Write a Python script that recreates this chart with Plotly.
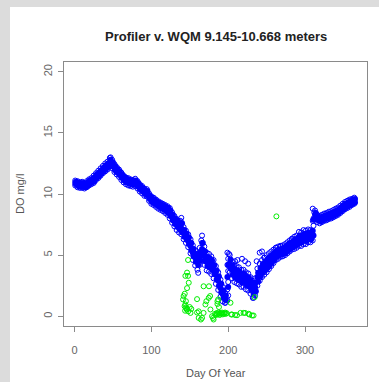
import plotly.graph_objects as go

# ---------------- data ----------------
blue_day = list(range(1, 365, 3))
blue_day2 = list(range(2, 366, 3))

blue_mid = [10.9, 10.8, 10.7, 10.75, 10.65, 10.8, 10.95, 11.05, 11.2, 11.45,
            11.6, 11.8, 12.0, 12.2, 12.35, 12.6, 12.45, 12.15, 11.9, 11.7,
            11.45, 11.25, 11.1, 11.0, 10.95, 10.9, 10.95, 10.75, 10.5, 10.35,
            10.15, 10.1, 9.75, 9.5, 9.4, 9.25, 9.1, 9.0, 8.9, 8.8,
            8.7, 8.45, 8.1, 7.8, 7.55, 7.35, 7.2, 6.8, 6.5, 6.2,
            5.75, 5.2, 4.8, 4.5, 4.9, 5.5, 4.9, 4.5, 4.4, 4.2,
            3.85, 3.4, 2.9, 2.3, 1.8, 1.45, 3.2, 4.3, 3.8, 3.5,
            3.4, 3.3, 3.1, 3.1, 2.9, 2.8, 2.5, 2.2, 2.4, 3.2,
            3.6, 3.9, 4.1, 4.3, 4.5, 4.7, 4.9, 5.1, 5.2, 5.3,
            5.35, 5.45, 5.6, 5.75, 5.9, 6.0, 6.1, 6.3, 6.3, 6.5,
            6.45, 6.6, 6.55, 7.0, 8.3, 8.0, 7.9, 8.0, 8.1, 8.15,
            8.25, 8.3, 8.4, 8.5, 8.6, 8.75, 8.9, 9.05, 9.15, 9.25,
            9.35, 9.45]

blue_low = [10.7, 10.55, 10.5, 10.5, 10.45, 10.55, 10.7, 10.8, 10.9, 11.15,
            11.3, 11.5, 11.7, 11.85, 12.0, 12.25, 12.1, 11.8, 11.6, 11.4,
            11.15, 10.95, 10.8, 10.7, 10.65, 10.6, 10.65, 10.45, 10.2, 10.05,
            9.85, 9.8, 9.45, 9.2, 9.1, 8.95, 8.8, 8.7, 8.6, 8.45,
            8.3, 8.0, 7.65, 7.35, 7.05, 6.85, 6.7, 6.3, 6.0, 5.65,
            5.15, 4.6, 4.15, 3.8, 4.2, 4.7, 4.2, 3.75, 3.65, 3.45,
            3.1, 2.65, 2.15, 1.6, 1.2, 1.1, 1.3, 3.6, 3.1, 2.8,
            2.7, 2.6, 2.4, 2.4, 2.2, 2.1, 1.85, 1.5, 1.7, 2.5,
            2.9, 3.2, 3.4, 3.6, 3.85, 4.1, 4.35, 4.6, 4.7, 4.85,
            4.9, 5.0, 5.15, 5.3, 5.45, 5.5, 5.6, 5.75, 5.75, 5.9,
            5.9, 6.05, 6.05, 6.2, 7.95, 7.7, 7.6, 7.7, 7.8, 7.85,
            7.95, 8.0, 8.1, 8.2, 8.3, 8.45, 8.6, 8.75, 8.85, 8.95,
            9.1, 9.2]

blue_high = [11.1, 11.05, 10.95, 11.0, 10.9, 11.05, 11.2, 11.3, 11.5, 11.7,
             11.9, 12.1, 12.3, 12.5, 12.65, 12.95, 12.8, 12.45, 12.2, 12.0,
             11.75, 11.5, 11.35, 11.3, 11.2, 11.15, 11.25, 11.05, 10.8, 10.65,
             10.45, 10.4, 10.05, 9.8, 9.7, 9.55, 9.4, 9.3, 9.2, 9.1,
             9.0, 8.85, 8.5, 8.2, 7.95, 7.8, 8.05, 7.3, 7.0, 6.7,
             6.3, 5.8, 5.4, 5.1, 5.6, 6.6, 5.7, 5.2, 5.1, 4.9,
             4.6, 4.1, 3.6, 3.0, 2.4, 1.9, 5.2, 5.0, 4.5, 4.2,
             4.1, 4.0, 3.8, 3.8, 3.6, 3.5, 3.2, 2.9, 3.1, 3.9,
             4.3, 4.6, 4.8, 5.0, 5.15, 5.3, 5.45, 5.6, 5.7, 5.75,
             5.8, 5.9, 6.05, 6.2, 6.35, 6.5, 6.6, 6.9, 6.85, 7.05,
             7.0, 7.1, 7.05, 8.8, 8.65, 8.3, 8.2, 8.3, 8.4, 8.45,
             8.55, 8.6, 8.7, 8.8, 8.9, 9.05, 9.2, 9.35, 9.45, 9.55,
             9.6, 9.7]

blue_q1 = [10.8, 10.65, 10.6, 10.6, 10.55, 10.65, 10.85, 10.95, 11.05, 11.3,
           11.45, 11.65, 11.85, 12.0, 12.2, 12.4, 12.25, 11.95, 11.75, 11.55,
           11.3, 11.1, 10.95, 10.85, 10.8, 10.75, 10.8, 10.6, 10.35, 10.2,
           10.0, 9.9, 9.6, 9.35, 9.25, 9.1, 8.95, 8.85, 8.75, 8.6,
           8.45, 8.2, 7.85, 7.55, 7.3, 7.1, 6.9, 6.5, 6.25, 5.9,
           5.4, 4.9, 4.45, 4.2, 4.55, 5.1, 4.5, 4.1, 4.0, 3.8,
           3.45, 3.0, 2.5, 1.95, 1.5, 1.3, 2.4, 3.9, 3.4, 3.15,
           3.05, 2.95, 2.75, 2.75, 2.55, 2.45, 2.15, 1.85, 2.05, 2.85,
           3.25, 3.55, 3.75, 3.95, 4.15, 4.4, 4.6, 4.85, 4.95, 5.05,
           5.1, 5.2, 5.35, 5.5, 5.65, 5.75, 5.85, 6.0, 6.05, 6.2,
           6.15, 6.3, 6.3, 6.6, 8.1, 7.85, 7.75, 7.85, 7.95, 8.0,
           8.1, 8.15, 8.25, 8.35, 8.45, 8.6, 8.75, 8.9, 9.0, 9.1,
           9.2, 9.3]

blue_q3 = [11.0, 10.95, 10.85, 10.9, 10.8, 10.95, 11.1, 11.2, 11.35, 11.6,
           11.75, 11.95, 12.15, 12.35, 12.5, 12.8, 12.6, 12.3, 12.05, 11.85,
           11.6, 11.4, 11.25, 11.15, 11.1, 11.05, 11.1, 10.9, 10.65, 10.5,
           10.3, 10.25, 9.9, 9.65, 9.55, 9.4, 9.25, 9.15, 9.05, 8.95,
           8.85, 8.65, 8.3, 8.0, 7.75, 7.6, 7.6, 7.05, 6.75, 6.45,
           6.0, 5.5, 5.1, 4.8, 5.25, 6.0, 5.3, 4.85, 4.75, 4.55,
           4.2, 3.75, 3.25, 2.65, 2.1, 1.7, 4.2, 4.65, 4.15, 3.85,
           3.75, 3.65, 3.45, 3.45, 3.25, 3.15, 2.85, 2.55, 2.75, 3.55,
           3.95, 4.25, 4.45, 4.65, 4.85, 5.0, 5.2, 5.35, 5.45, 5.5,
           5.6, 5.7, 5.85, 6.0, 6.1, 6.25, 6.35, 6.6, 6.6, 6.75,
           6.75, 6.85, 6.8, 7.9, 8.45, 8.15, 8.05, 8.15, 8.25, 8.3,
           8.4, 8.45, 8.55, 8.65, 8.75, 8.9, 9.05, 9.2, 9.3, 9.4,
           9.5, 9.6]

blue_extra_day = [47, 138, 139, 165, 166, 199, 199, 200, 200, 200, 200, 201,
                  310, 311, 311, 312, 196, 233]
blue_extra_do = [13.0, 7.8, 7.6, 6.2, 6.0, 2.2, 4.2, 1.7, 2.8, 3.7, 4.7, 5.1,
                 7.8, 7.4, 8.0, 8.5, 1.1, 1.5]

blue_out_day = [161, 209, 212, 218, 222, 226, 237, 241, 244, 247, 262, 268, 283]
blue_out_do = [3.55, 4.5, 4.6, 4.7, 4.5, 4.3, 4.5, 5.2, 5.3, 4.8, 5.6, 5.75, 6.3]

green_day = [147.8, 146.5, 147.8, 144.3, 148.7, 146.5, 143.5, 142.0, 141.3, 145.0,
             144.3, 143.3, 146.5, 146.0, 144.0, 145.0, 148.0, 151.0, 159.5, 159.5,
             161.6, 161.6, 164.5, 166.0, 168.0, 175.0, 170.4, 171.6, 174.7, 176.5,
             176.9, 168.0, 179.0, 180.3, 181.0, 186.0, 187.0, 186.0, 188.0,
             183.0, 184.0, 185.0, 186.0, 187.0, 188.0, 189.0, 190.0, 191.0, 192.0,
             193.0, 194.0, 195.0, 196.0, 197.0, 198.0,
             203.0, 204.0, 205.0, 209.0, 211.5, 216.0, 220.0, 222.0, 226.7, 227.5,
             231.0, 233.0, 234.5, 262.7, 150.0, 152.0]
green_do = [4.6, 3.57, 3.3, 3.3, 2.74, 2.3, 1.84, 1.65, 1.37, 1.23,
            0.96, 0.82, 0.63, 0.55, 0.45, 0.7, 0.4, 0.27, 1.4, 0.3,
            0.4, -0.14, -0.27, -0.14, 2.45, 2.45, 0.96, 1.23, 1.5, 1.65,
            0.55, 0.27, 0.0, -0.14, -0.27, 1.23, 1.37, 1.0, 0.75,
            0.2, 0.1, 0.25, 0.15, 0.3, 0.2, 0.1, 0.25, 0.2, 0.3,
            0.15, 0.25, 0.2, 0.3, 0.2, 0.25,
            1.1, 0.14, 0.14, 0.1, 0.08, 0.27, 0.27, 0.27, 0.2, 0.14,
            0.06, 0.06, 1.56, 8.17, 0.75, 0.6]

x_ticks = [0, 100, 200, 300]
y_ticks = [0, 5, 10, 15, 20]

title_text = "Profiler v. WQM 9.145-10.668 meters"
x_title = "Day Of Year"
y_title = "DO mg/l"

# ---------------- figure ----------------
FONT = "Liberation Sans, Arial, sans-serif"
BLUE = "#0000ff"

core_x = blue_day + blue_day2 + blue_day2
core_y = blue_mid + blue_q1 + blue_q3
edge_x = blue_day + blue_day + blue_extra_day + blue_out_day
edge_y = blue_low + blue_high + blue_extra_do + blue_out_do

fig = go.Figure()
# dense core of the profiler cloud (overlapping circles read as solid)
fig.add_trace(go.Scatter(
    x=core_x, y=core_y, mode="markers",
    marker=dict(symbol="circle", size=6, color=BLUE,
                line=dict(width=0)),
    showlegend=False, hoverinfo="skip"))
# outer profiler readings drawn as open circles
fig.add_trace(go.Scatter(
    x=edge_x, y=edge_y, mode="markers",
    marker=dict(symbol="circle-open", size=5, color=BLUE,
                line=dict(width=1, color=BLUE)),
    showlegend=False, hoverinfo="skip"))
fig.add_trace(go.Scatter(
    x=green_day, y=green_do, mode="markers",
    marker=dict(symbol="circle-open", size=5, color="#00ee00",
                line=dict(width=1, color="#00ee00")),
    showlegend=False, hoverinfo="skip"))

axis_common = dict(
    showgrid=False, zeroline=False, showline=True, linecolor="#8a8a8a",
    linewidth=1, mirror=True, ticks="outside", ticklen=5, tickwidth=1,
    tickcolor="#8a8a8a", tickfont=dict(family=FONT, size=11, color="#666666"),
)

fig.update_layout(
    width=379, height=382,
    margin=dict(l=64, r=12, t=62, b=56),
    paper_bgcolor="#dcdcdc", plot_bgcolor="#ffffff",
    xaxis=dict(range=[-13.6, 380.6], tickmode="array", tickvals=x_ticks,
               ticklabelstandoff=9, **axis_common),
    yaxis=dict(range=[-0.8, 20.8], tickmode="array", tickvals=y_ticks,
               tickangle=-90, ticklabelstandoff=2, **axis_common),
    shapes=[dict(type="rect", xref="paper", yref="paper",
                 x0=(10 - 64) / 303, x1=(385 - 64) / 303,
                 y0=(326 - 390) / 264, y1=(326 - 7) / 264,
                 fillcolor="#ffffff", line=dict(width=0), layer="below")],
    annotations=[
        dict(text="<b>" + title_text + "</b>", xref="paper", yref="paper",
             x=0.5, y=(326 - 37) / 264, showarrow=False,
             xanchor="center", yanchor="middle",
             font=dict(family=FONT, size=13, color="#222222")),
        dict(text=x_title, xref="paper", yref="paper",
             x=0.5, y=(326 - 373) / 264, showarrow=False,
             xanchor="center", yanchor="middle",
             font=dict(family=FONT, size=11, color="#555555")),
        dict(text=y_title, xref="paper", yref="paper",
             x=(20 - 64) / 303, y=0.5, showarrow=False, textangle=-90,
             xanchor="center", yanchor="middle",
             font=dict(family=FONT, size=11, color="#555555")),
    ],
)

fig.write_html("out.html")
